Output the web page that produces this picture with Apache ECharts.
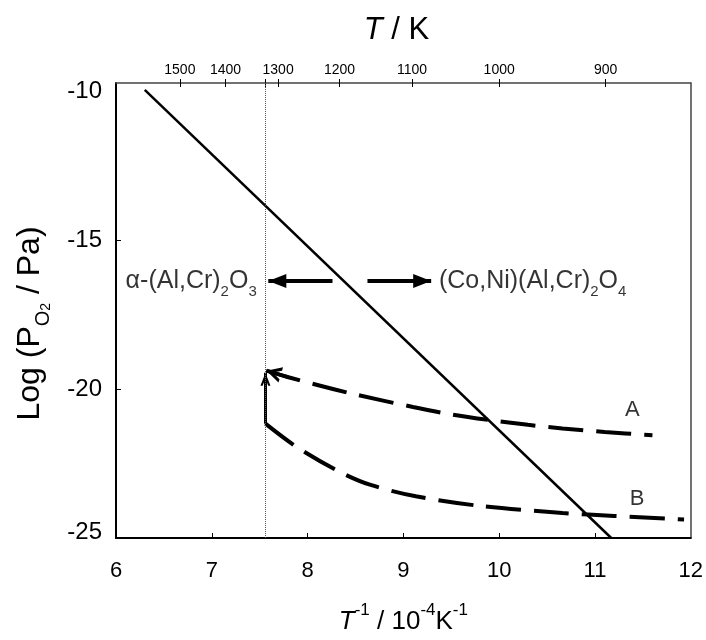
<!DOCTYPE html>
<html>
<head>
<meta charset="utf-8">
<script src="https://cdn.jsdelivr.net/npm/echarts@6/dist/echarts.min.js"></script>
<style>html,body{margin:0;padding:0;background:#fff}#c{width:706px;height:640px}</style>
</head>
<body>
<div id="c"></div>
<script>
// ---- data ----
const xTicks = [6, 7, 8, 9, 10, 11, 12];
const yTicks = [-25, -20, -15, -10];
const topTempTicks = [1500, 1400, 1323, 1300, 1200, 1100, 1000, 900];
const topTempLabels = [1500, 1400, 1300, 1200, 1100, 1000, 900];
const dottedTemp = 1323;
const boundaryLine = [[6.3, -9.95], [11.17, -25]];
const curveA = [[7.57, -19.38], [7.8, -19.6], [8.05, -19.82], [8.5, -20.18], [9.1, -20.6], [9.5, -20.85], [9.9, -21.04], [10.3, -21.2], [10.66, -21.32], [11.1, -21.44], [11.6, -21.55]];
const curveB = [[7.56, -21.16], [7.88, -21.93], [8.33, -22.77], [8.65, -23.21], [9.13, -23.6], [9.82, -23.93], [10.66, -24.16], [11.2, -24.26], [11.93, -24.38]];
const arrowLeft = [[8.26, -16.37], [7.59, -16.37]];
const arrowRight = [[8.625, -16.37], [9.29, -16.37]];
const arrowUp = [[7.56, -21.16], [7.56, -19.45]];
const arrowA = [[7.8, -19.6], [7.57, -19.38]];
const labelA = [11.39, -20.7];
const labelB = [11.44, -23.7];
const phaseLeftPos = [7.49, -16.37];
const phaseRightPos = [9.35, -16.37];

const FONT = 'Liberation Sans, Arial, sans-serif';
const chart = echarts.init(document.getElementById('c'));
// symbols drawn with their tip at the symbol centre (extra moveTo widens the box)
const tipTriangle = 'path://M5,0 M5,10 L10,20 L0,20 Z';
const tipChevron = 'path://M5,0 M5,10 L10,20 L7.8,20 L5,14.4 L2.2,20 L0,20 Z';

chart.setOption({
  animation: false,
  backgroundColor: '#fff',
  textStyle: { fontFamily: FONT },
  grid: { left: 116, right: 14, top: 83, bottom: 98 },
  xAxis: [
    {
      type: 'value', position: 'bottom', min: 6, max: 12, interval: 1,
      axisLine: { lineStyle: { color: '#000', width: 2 } },
      axisTick: { inside: true, length: 5, lineStyle: { color: '#000', width: 1 }, customValues: xTicks.slice(1, -1) },
      axisLabel: { fontSize: 22, color: '#000', margin: 22, fontFamily: FONT, customValues: xTicks },
      splitLine: { show: false },
      name: '{it|T}{sup|-1}{n| / 10}{sup|-4}{n|K}{sup|-1}',
      nameLocation: 'middle', nameGap: 64,
      nameTextStyle: {
        fontFamily: FONT,
        rich: {
          n: { fontSize: 26, lineHeight: 40, verticalAlign: 'middle', fontFamily: FONT, color: '#000' },
          it: { fontSize: 26, lineHeight: 40, verticalAlign: 'middle', fontStyle: 'italic', fontFamily: FONT, color: '#000' },
          sup: { fontSize: 17, lineHeight: 22, verticalAlign: 'top', fontFamily: FONT, color: '#000' }
        }
      }
    },
    {
      type: 'value', position: 'top', min: 6, max: 12,
      axisLine: { lineStyle: { color: '#444', width: 1.5 } },
      axisTick: { inside: false, length: 4, lineStyle: { color: '#000', width: 1 }, customValues: topTempTicks.map(t => 1e4 / t) },
      axisLabel: { fontSize: 14, color: '#000', margin: 6, fontFamily: FONT, customValues: topTempLabels.map(t => 1e4 / t), formatter: v => String(Math.round(1e4 / v / 100) * 100) },
      splitLine: { show: false },
      name: '{it|T}{n| / K}',
      nameLocation: 'middle', nameGap: 37,
      nameTextStyle: {
        fontFamily: FONT, padding: [0, 14, 0, 0],
        rich: {
          n: { fontSize: 31, fontFamily: FONT, color: '#000' },
          it: { fontSize: 31, fontStyle: 'italic', fontFamily: FONT, color: '#000' }
        }
      }
    },
    {
      type: 'value', position: 'top', min: 6, max: 12,
      axisLine: { show: false },
      axisTick: { inside: true, length: 4, lineStyle: { color: '#000', width: 1 }, customValues: topTempTicks.map(t => 1e4 / t) },
      axisLabel: { show: false },
      splitLine: { show: false }
    }
  ],
  yAxis: [
    {
      type: 'value', position: 'left', min: -25, max: -9.72,
      axisLine: { lineStyle: { color: '#000', width: 2 } },
      axisTick: { inside: true, length: 5, lineStyle: { color: '#000', width: 1 }, customValues: [-20, -15] },
      axisLabel: {
        fontSize: 24, color: '#000', margin: 14, fontFamily: FONT, customValues: yTicks,
        formatter: v => (v === yTicks[0] ? '{b|' + v + '}' : String(v)),
        rich: { b: { fontSize: 24, fontFamily: FONT, color: '#000', padding: [0, 0, 12, 0] } }
      },
      splitLine: { show: false },
      name: '{n|Log (P}{s1|O}{s2|2}{n| / Pa)}',
      nameLocation: 'middle', nameGap: 63, nameRotate: 90,
      nameTextStyle: {
        fontFamily: FONT, padding: [0, 26, 0, 0],
        rich: {
          n: { fontSize: 32, lineHeight: 46, verticalAlign: 'middle', fontFamily: FONT, color: '#000' },
          s1: { fontSize: 20, lineHeight: 27, verticalAlign: 'bottom', fontFamily: FONT, color: '#000' },
          s2: { fontSize: 14, lineHeight: 11, verticalAlign: 'bottom', fontFamily: FONT, color: '#000' }
        }
      }
    },
    {
      type: 'value', position: 'right', min: -25, max: -9.72,
      axisLine: { show: true, lineStyle: { color: '#444', width: 1.5 } },
      axisTick: { show: false }, axisLabel: { show: false }, splitLine: { show: false }
    }
  ],
  series: [
    {
      type: 'line', data: boundaryLine, symbol: 'none',
      lineStyle: { color: '#000', width: 2.5 }, z: 3,
      markLine: {
        silent: true, symbol: 'none', label: { show: false },
        lineStyle: { color: '#555', type: 'dotted', width: 1 },
        data: [{ xAxis: 1e4 / dottedTemp }]
      }
    },
    {
      type: 'line', data: curveA, symbol: 'none', smooth: 0.3,
      lineStyle: { color: '#000', width: 4, type: [35, 13] }
    },
    {
      type: 'line', data: curveB, symbol: 'none', smooth: 0.3,
      lineStyle: { color: '#000', width: 4, type: [35, 13] }
    },
    {
      type: 'lines', coordinateSystem: 'cartesian2d',
      symbol: ['none', tipTriangle], symbolSize: [0, [14, 36]],
      lineStyle: { color: '#000', width: 4, opacity: 1, curveness: 0 },
      data: [{ coords: arrowLeft }, { coords: arrowRight }]
    },
    {
      type: 'lines', coordinateSystem: 'cartesian2d',
      symbol: ['none', tipChevron], symbolSize: [0, [10, 26]],
      lineStyle: { color: '#000', width: 3, opacity: 1, curveness: 0 },
      data: [{ coords: arrowUp }]
    },
    {
      type: 'lines', coordinateSystem: 'cartesian2d',
      symbol: ['none', tipChevron], symbolSize: [0, [16, 30]],
      lineStyle: { color: '#000', width: 3.5, opacity: 1, curveness: 0 },
      data: [{ coords: arrowA }]
    },
    {
      type: 'scatter', symbolSize: 0, silent: true,
      data: [
        { value: labelA, label: { show: true, formatter: 'A', position: 'inside' } },
        { value: labelB, label: { show: true, formatter: 'B', position: 'inside' } },
        { value: phaseLeftPos, label: { show: true, position: 'left', distance: 2, formatter: '{n|α-(Al,Cr)}{s|2}{n|O}{s|3}' } },
        { value: phaseRightPos, label: { show: true, position: 'right', distance: 2, formatter: '{n|(Co,Ni)(Al,Cr)}{s|2}{n|O}{s|4}' } }
      ],
      label: {
        fontSize: 22, color: '#000', fontFamily: FONT,
        rich: {
          n: { fontSize: 25, lineHeight: 37, verticalAlign: 'middle', fontFamily: FONT, color: '#000' },
          s: { fontSize: 15, lineHeight: 19, verticalAlign: 'bottom', fontFamily: FONT, color: '#000' }
        }
      }
    }
  ]
});
</script>
</body>
</html>
